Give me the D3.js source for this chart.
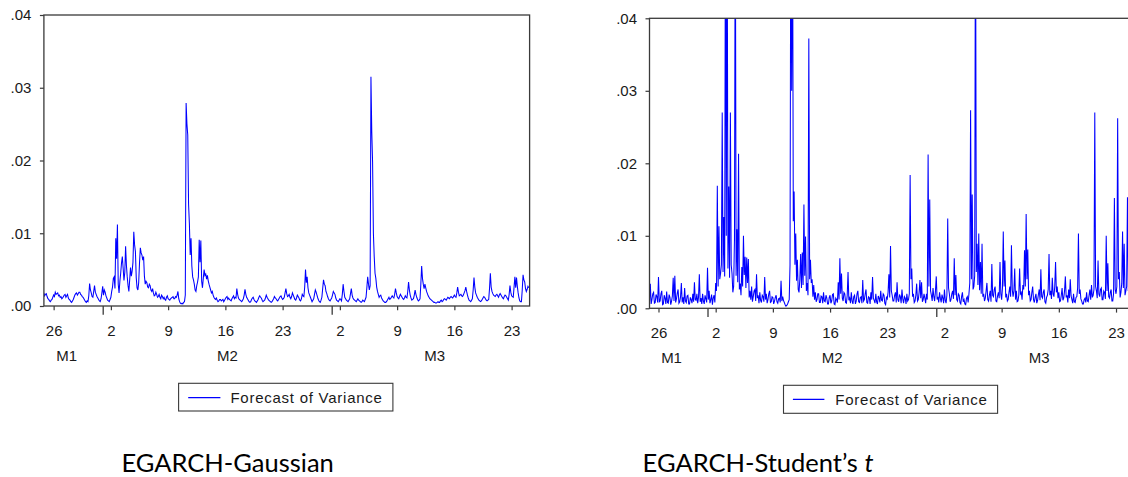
<!DOCTYPE html>
<html>
<head>
<meta charset="utf-8">
<script src="https://cdn.jsdelivr.net/npm/d3@7"></script>
<style>
html, body { margin: 0; padding: 0; background: #ffffff; }
svg { display: block; }
</style>
</head>
<body>
<svg id="chart" width="1128" height="477"></svg>
<script>
// ---------------- DATA (variance values in units of 1e-3) ----------------
// Observation grid: first observation at day -1.2 (day 0 = "26" of M1), one every 0.1 day
const obsStartDay = -1.2;
const obsStepDay = 0.1;

// EGARCH-Gaussian forecast of variance (x 1e-3)
const gaussVar = [
  1.8,1.4,1.6,1.7,1.3,1.0,0.9,0.7,0.6,0.8,0.9,1.2,1.5,1.3,1.9,1.6,1.7,1.8,1.4,1.5,
  1.2,1.3,1.0,1.1,1.3,1.5,1.6,1.2,1.4,1.6,1.1,0.9,0.8,0.6,0.5,0.7,0.9,1.2,1.5,1.7,
  1.8,1.5,1.7,1.9,1.9,1.6,1.5,1.3,1.2,1.0,0.8,0.6,0.5,0.7,0.6,1.4,3.1,2.2,1.8,1.3,
  1.2,2.0,2.8,1.9,1.6,1.3,1.1,0.9,0.7,0.6,1.0,1.8,2.7,1.5,2.2,1.9,1.4,1.1,0.8,0.7,
  0.6,0.9,1.2,2.0,2.6,3.8,4.0,2.4,9.3,6.5,11.2,3.0,1.8,3.4,4.5,5.9,6.8,5.2,3.5,4.6,
  8.2,5.6,4.0,2.8,2.0,3.6,5.3,4.1,4.8,6.0,10.2,8.4,7.5,3.9,2.5,2.2,3.2,5.9,8.0,7.3,
  7.0,6.3,6.8,4.1,3.0,3.4,3.2,2.6,2.5,3.0,2.8,2.2,2.0,2.4,1.8,1.4,1.5,1.9,1.6,1.2,
  1.3,1.6,1.2,1.0,1.5,1.3,1.0,1.2,0.9,0.8,1.2,1.4,1.0,0.9,0.8,1.0,1.1,1.2,1.3,1.0,
  1.0,1.3,1.2,1.5,2.0,1.0,0.6,0.4,0.3,0.4,0.3,0.5,0.6,1.5,27.9,25.0,23.5,14.0,11.3,7.0,
  9.3,5.5,4.0,3.6,3.0,2.2,2.0,2.8,3.3,4.0,9.1,6.0,9.0,3.4,2.5,3.8,5.0,4.2,4.4,3.7,
  4.2,3.5,3.0,2.6,2.2,1.8,2.0,1.5,1.2,1.0,0.9,1.1,0.8,0.6,0.7,0.9,0.9,0.7,0.8,0.9,
  0.6,0.8,1.0,1.2,1.3,0.9,1.1,0.9,0.8,0.7,1.0,1.2,1.4,1.0,1.2,1.1,2.4,1.6,1.1,0.9,
  0.8,0.7,0.6,0.8,1.0,1.5,2.3,1.6,1.2,1.0,0.8,0.6,0.5,0.6,0.9,1.1,1.2,0.9,0.7,0.6,
  0.5,0.7,0.9,1.2,1.4,1.2,1.1,0.8,0.6,0.7,0.8,1.1,1.5,1.2,1.0,0.8,0.7,0.6,0.5,0.6,
  0.8,1.0,1.3,1.1,1.0,0.8,0.7,0.9,1.1,1.3,1.4,1.1,0.9,1.0,1.2,1.8,2.4,1.7,1.3,1.4,
  1.6,1.2,1.0,1.3,1.8,1.5,1.2,0.9,0.8,1.1,1.5,1.3,1.1,0.8,0.7,1.0,1.6,1.4,1.3,2.6,
  5.0,3.2,4.0,2.5,1.8,1.5,1.2,0.9,0.6,0.8,1.0,1.6,2.2,1.9,1.5,1.1,0.8,0.6,0.5,0.8,
  1.2,2.4,3.6,3.0,2.8,2.0,1.7,1.3,1.0,0.8,0.7,0.9,1.1,1.5,2.0,1.8,1.6,1.1,0.8,0.7,
  0.6,0.8,1.0,0.9,0.7,1.6,3.0,2.0,1.2,1.0,0.8,0.7,0.6,0.8,1.0,1.7,2.4,1.5,1.1,0.9,
  0.8,0.7,0.6,0.8,1.0,0.8,0.7,0.6,0.5,0.6,0.8,0.7,0.6,0.9,1.2,2.5,4.0,3.0,2.2,2.8,
  31.5,24.0,19.8,10.0,6.8,4.5,3.8,2.6,2.0,1.6,1.2,1.4,1.5,1.1,0.9,0.7,0.6,0.5,0.5,0.6,
  0.8,1.0,1.2,0.9,1.0,1.2,1.4,1.2,1.1,1.6,2.4,1.8,1.3,1.1,1.0,1.3,1.6,1.4,1.2,1.0,
  0.9,1.1,1.4,1.2,1.1,2.0,3.3,2.2,1.5,1.1,0.8,0.9,1.0,1.5,2.2,1.6,1.2,0.9,0.7,0.8,
  1.0,3.0,5.5,3.8,3.0,2.4,3.0,2.5,2.0,1.7,1.4,1.2,1.0,0.9,0.8,0.7,0.6,0.5,0.5,0.4,
  0.4,0.5,0.6,0.5,0.5,0.7,0.8,0.6,0.7,0.9,1.0,0.9,0.8,1.0,1.2,1.1,1.0,1.2,1.3,1.2,
  1.1,1.3,1.5,1.3,1.2,1.8,2.6,1.9,1.4,1.5,1.6,1.4,1.3,1.5,1.8,2.1,2.6,2.0,1.5,1.1,
  0.8,0.7,0.6,0.8,1.0,2.2,3.9,2.6,1.8,1.5,1.2,1.0,0.8,0.7,0.6,0.7,0.9,1.1,1.3,1.2,
  1.0,0.8,0.7,0.8,0.9,2.4,4.5,2.6,2.0,1.7,1.5,1.4,1.3,1.5,1.6,1.4,1.2,1.5,1.7,1.5,
  1.3,1.1,1.0,1.3,1.5,1.4,1.2,1.0,0.8,1.6,2.8,1.9,1.4,1.3,1.2,2.6,4.0,2.5,3.9,2.7,
  1.8,1.1,0.7,0.6,0.6,2.2,4.3,3.6,3.3,2.4,2.0,2.3,2.7,2.5
];

// EGARCH-Student's t forecast of variance (x 1e-3); values above 40 run off the top of the frame
const studentVar = [
  2.0,0.9,3.4,0.6,1.2,2.0,2.2,0.7,0.8,1.9,1.6,0.8,4.3,0.9,1.0,2.0,2.4,0.5,0.6,1.8,
  1.4,0.6,2.3,0.8,0.7,1.9,1.5,0.5,1.0,1.7,4.2,1.0,4.5,0.8,1.3,2.1,2.6,0.7,0.9,1.6,
  3.5,0.8,1.5,0.6,2.8,1.0,0.8,1.7,1.8,0.6,0.6,1.5,1.2,0.7,2.0,0.9,3.6,1.2,1.1,2.0,
  0.7,1.5,4.7,0.9,1.4,0.6,2.0,1.0,0.6,1.8,1.3,0.8,5.6,1.2,2.4,0.7,1.2,1.9,0.5,1.4,
  1.8,0.8,3.5,2.4,16.9,3.0,11.3,4.0,4.8,6.0,27.0,5.0,12.6,4.4,60,10.0,60,5.5,16.8,4.2,
  27.0,6.0,4.8,2.2,3.0,9.5,60,4.5,10.9,3.6,21.3,2.6,3.4,1.8,5.7,3.0,10.0,4.6,7.1,2.8,
  7.0,3.5,6.8,1.5,2.4,1.2,3.0,0.9,1.6,2.4,2.6,1.0,4.7,1.4,1.8,0.7,2.2,1.1,0.8,1.8,
  1.6,0.9,4.3,1.2,2.0,0.7,1.2,2.0,2.4,0.8,0.9,1.6,1.5,0.6,1.0,1.5,1.8,0.9,0.7,1.3,
  1.4,0.8,3.8,1.0,1.6,1.1,0.8,0.5,0.3,0.4,0.6,0.9,1.2,6.0,60,30.0,60,12.0,16.1,6.0,
  10.3,3.8,6.7,2.6,2.2,4.0,7.5,2.8,7.7,3.2,14.3,4.5,9.9,2.4,3.5,1.8,37.2,4.0,6.7,3.5,
  4.0,1.6,3.2,1.2,2.2,0.9,1.2,2.0,2.0,0.8,0.8,1.7,1.6,0.7,2.2,1.0,0.9,1.8,1.4,0.6,
  0.6,1.5,1.8,0.7,1.0,1.9,2.0,0.6,0.5,1.4,1.2,0.8,3.6,1.2,6.9,2.0,4.8,1.4,1.0,2.2,
  2.0,0.8,0.7,1.8,5.0,1.1,1.4,0.7,2.2,1.0,0.6,1.6,1.8,0.6,1.0,2.0,2.4,0.9,0.8,1.5,
  1.6,0.7,3.9,1.0,1.2,2.0,2.6,0.8,0.7,1.6,1.5,0.6,2.2,1.2,4.3,1.4,1.1,0.7,2.0,0.9,
  0.6,1.7,1.4,0.8,2.4,1.1,1.0,2.0,1.8,0.7,0.5,1.5,1.3,2.2,4.7,1.5,8.6,2.4,1.8,1.0,
  1.0,1.8,2.2,0.8,3.6,1.2,0.9,1.9,1.6,0.7,2.6,1.3,0.7,1.6,1.4,0.6,2.0,1.0,1.2,2.0,
  18.4,4.0,5.5,1.6,2.0,0.8,1.0,1.8,3.4,1.0,1.2,2.2,3.9,1.4,3.6,0.9,1.2,2.0,1.4,0.7,
  2.0,1.2,21.2,3.0,15.0,2.4,1.8,1.0,2.8,1.6,1.0,2.4,4.4,1.2,1.6,0.8,2.2,1.4,0.8,1.9,
  1.4,0.7,2.6,1.1,0.7,1.8,12.4,2.8,2.0,0.9,1.2,2.0,2.4,1.3,6.9,1.8,4.6,1.2,1.0,2.0,
  1.8,0.8,0.6,1.6,2.2,0.9,1.2,0.6,0.5,1.4,1.6,0.8,2.0,3.5,27.3,4.0,15.7,2.6,3.0,4.5,
  60,5.0,8.9,3.2,10.3,2.5,6.4,2.0,8.9,1.6,2.0,1.0,1.4,2.4,3.5,1.2,1.0,1.8,2.4,0.9,
  6.1,1.8,1.6,2.6,3.0,1.0,0.9,1.7,2.2,1.4,6.4,2.0,1.2,2.8,10.6,3.0,6.6,1.5,2.0,1.0,
  1.2,2.2,3.0,1.6,8.7,2.6,1.6,2.4,5.5,1.2,2.4,0.9,1.0,1.8,5.5,2.0,2.2,1.2,3.2,2.6,
  8.0,3.0,13.0,4.0,8.1,1.8,2.4,1.0,1.2,2.2,3.0,1.2,0.8,1.5,2.0,0.7,1.1,1.9,2.6,1.1,
  5.4,1.6,1.4,2.2,2.6,0.9,0.7,1.5,1.8,2.6,7.5,1.8,2.4,1.3,4.2,2.0,1.6,3.0,6.4,2.2,
  3.0,1.4,2.2,0.9,1.0,1.8,2.8,1.1,1.4,2.4,4.4,1.5,1.8,0.8,2.6,1.4,4.0,1.7,1.2,0.7,
  2.0,0.9,0.8,1.5,1.6,2.8,10.3,2.0,2.6,1.3,1.0,0.6,0.6,1.2,1.4,0.8,2.2,1.0,0.9,1.8,
  2.6,1.2,3.2,1.5,1.8,2.6,27.0,3.0,2.4,1.4,6.6,2.0,1.6,2.6,2.8,1.2,1.2,2.4,2.2,1.3,
  10.0,2.4,6.2,1.6,1.4,2.2,2.6,1.0,1.0,2.0,15.2,2.6,2.0,3.0,26.2,4.0,5.0,1.5,2.2,3.4,
  10.6,2.8,8.9,1.8,2.4,3.0,15.3,2.4,3.0,1.2,1.6,2.6,2.2,1.4
];

// Axis ticks
const xTickDays = [0, 7, 14, 21, 28, 35, 42, 49, 56];
const xTickLabels = ["26", "2", "9", "16", "23", "2", "9", "16", "23"];
const monthStartDays = [6, 34];
const monthLabels = ["M1", "M2", "M3"];
const monthLabelDays = [1.6, 21.25, 46.6];
const yDomain = [0, 40];
const yTickValues = [0, 10, 20, 30, 40];
const yTickLabels = [".00", ".01", ".02", ".03", ".04"];
const legendLabel = "Forecast of Variance";
const captionGauss = ["EGARCH-Gaussian", ""];
const captionStudent = ["EGARCH-Student\u2019s ", "t"];

// ---------------- LAYOUT ----------------
const chartFont = "'Liberation Sans', Arial, sans-serif";
const captionFont = "Lato, 'Open Sans', sans-serif";
const blue = "#0000ff";
const frameColor = "#3a3a3a";
const textColor = "#1a1a1a";

const panels = [
  {
    values: gaussVar, caption: captionGauss,
    frame: { left: 43.9, right: 529.6, top: 15, bottom: 306 },
    xDomain: [-1.19, 58.2],
    xLabelPad: 15, monthLabelY: 361,
    legend: { x: 178.6, y: 383.3, w: 214.3, h: 27.7, lx1: 188.2, lx2: 220.4, ly: 397.7, tx: 230.4, ty: 403 },
    captionPos: { x: 121.4, y: 471.5 }
  },
  {
    values: studentVar, caption: captionStudent,
    frame: { left: 649.5, right: 1134, top: 18.3, bottom: 308.3 },
    xDomain: [-1.1, 58.2],
    xLabelPad: 15, monthLabelY: 363.3,
    legend: { x: 783.5, y: 385.3, w: 214.1, h: 28, lx1: 792.9, lx2: 824.4, ly: 399.3, tx: 835.3, ty: 405 },
    captionPos: { x: 642.6, y: 471.5 }
  }
];

const svg = d3.select("#chart");
svg.append("rect").attr("width", 1128).attr("height", 477).attr("fill", "#ffffff");

panels.forEach((p, k) => {
  const f = p.frame;
  const x = d3.scaleLinear().domain(p.xDomain).range([f.left, f.right]);
  const y = d3.scaleLinear().domain(yDomain).range([f.bottom, f.top]);
  const g = svg.append("g");

  const clipId = "plotclip" + k;
  g.append("clipPath").attr("id", clipId)
    .append("rect")
    .attr("x", f.left).attr("y", f.top)
    .attr("width", f.right - f.left).attr("height", f.bottom - f.top);

  const line = d3.line()
    .x((d, i) => x(obsStartDay + i * obsStepDay))
    .y(d => y(d));

  g.append("path")
    .datum(p.values)
    .attr("clip-path", `url(#${clipId})`)
    .attr("fill", "none")
    .attr("stroke", blue)
    .attr("stroke-width", 1.05)
    .attr("d", line);

  // frame
  g.append("rect")
    .attr("x", f.left).attr("y", f.top)
    .attr("width", f.right - f.left).attr("height", f.bottom - f.top)
    .attr("fill", "none").attr("stroke", frameColor).attr("stroke-width", 1.3);

  // y axis
  const yAxis = d3.axisLeft(y)
    .tickValues(yTickValues)
    .tickFormat((d, i) => yTickLabels[i])
    .tickSize(4).tickSizeOuter(0).tickPadding(8.5);
  const ya = g.append("g").attr("transform", `translate(${f.left},0)`).call(yAxis);
  ya.select(".domain").remove();
  ya.selectAll("line").attr("stroke", frameColor).attr("stroke-width", 1.2);
  ya.selectAll("text").attr("font-family", chartFont).attr("font-size", 15).attr("fill", textColor);

  // x axis (day ticks)
  const xAxis = d3.axisBottom(x)
    .tickValues(xTickDays)
    .tickFormat((d, i) => xTickLabels[i])
    .tickSize(4.3).tickSizeOuter(0).tickPadding(p.xLabelPad);
  const xa = g.append("g").attr("transform", `translate(0,${f.bottom})`).call(xAxis);
  xa.select(".domain").remove();
  xa.selectAll("line").attr("stroke", frameColor).attr("stroke-width", 1.2);
  xa.selectAll("text").attr("font-family", chartFont).attr("font-size", 15).attr("fill", textColor);

  // month boundary ticks (longer)
  const mAxis = d3.axisBottom(x).tickValues(monthStartDays).tickFormat("").tickSize(8.7).tickSizeOuter(0);
  const ma = g.append("g").attr("transform", `translate(0,${f.bottom})`).call(mAxis);
  ma.select(".domain").remove();
  ma.selectAll("line").attr("stroke", frameColor).attr("stroke-width", 1.3);

  // month labels
  g.selectAll("text.month")
    .data(monthLabels)
    .enter().append("text")
    .attr("class", "month")
    .attr("x", (d, i) => x(monthLabelDays[i]))
    .attr("y", p.monthLabelY)
    .attr("text-anchor", "middle")
    .attr("font-family", chartFont).attr("font-size", 15).attr("fill", textColor)
    .text(d => d);

  // legend
  const L = p.legend;
  g.append("rect")
    .attr("x", L.x).attr("y", L.y).attr("width", L.w).attr("height", L.h)
    .attr("fill", "#ffffff").attr("stroke", frameColor).attr("stroke-width", 1.1);
  g.append("line")
    .attr("x1", L.lx1).attr("x2", L.lx2).attr("y1", L.ly).attr("y2", L.ly)
    .attr("stroke", blue).attr("stroke-width", 1.2);
  g.append("text")
    .attr("x", L.tx).attr("y", L.ty)
    .attr("font-family", chartFont).attr("font-size", 15)
    .attr("letter-spacing", "0.75px")
    .attr("fill", textColor)
    .text(legendLabel);

  // caption
  const cap = svg.append("text")
    .attr("x", p.captionPos.x).attr("y", p.captionPos.y)
    .attr("font-family", captionFont).attr("font-size", 25.5)
    .attr("fill", "#000000");
  cap.append("tspan").text(p.caption[0]);
  if (p.caption[1]) cap.append("tspan").attr("font-style", "italic").text(p.caption[1]);
});
</script>
</body>
</html>
